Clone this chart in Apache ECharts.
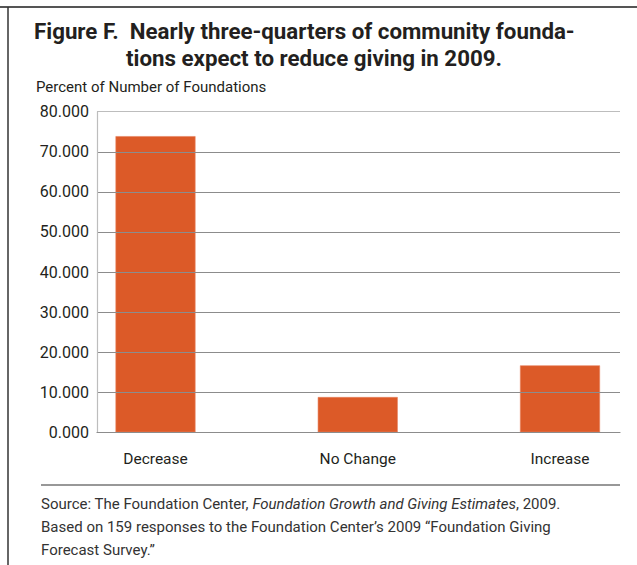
<!DOCTYPE html>
<html>
<head>
<meta charset="utf-8">
<script src="https://cdn.jsdelivr.net/npm/echarts@6/dist/echarts.min.js"></script>
<style>
html,body{margin:0;padding:0;background:#fff;}
#chart{width:637px;height:565px;}
</style>
</head>
<body>
<div id="chart"></div>
<script>
const categories = ['Decrease', 'No Change', 'Increase'];
const values = [73.9, 8.8, 16.7];
const yMin = 0, yMax = 80, yStep = 10;
const titleLine1 = 'Figure F.  Nearly three-quarters of community founda-';
const titleLine2 = 'tions expect to reduce giving in 2009.';
const yAxisTitle = 'Percent of Number of Foundations';
const sourceLines = [
  'Source: The Foundation Center, {i|Foundation Growth and Giving Estimates}, 2009.',
  'Based on 159 responses to the Foundation Center\u2019s 2009 \u201CFoundation Giving',
  'Forecast Survey.\u201D'
];

const FONT = 'Roboto, "Open Sans", sans-serif';
const chart = echarts.init(document.getElementById('chart'), null, {renderer: 'svg'});

const gridTop = 111.7, gridBottom = 565 - 432.3;
const splitColors = [];
for (let v = yMin; v <= yMax; v += yStep) splitColors.push(v === yMax ? '#bdbdbd' : '#8c8c8c');

chart.setOption({
  animation: false,
  backgroundColor: '#fff',
  grid: [
    {left: 155.5, right: 637 - 560, top: gridTop, bottom: gridBottom, containLabel: false},
    {left: 97, right: 637 - 620, top: gridTop, bottom: gridBottom, containLabel: false}
  ],
  xAxis: [
    {
      type: 'category', gridIndex: 0, data: categories, boundaryGap: false,
      axisLine: {show: false}, axisTick: {show: false}, splitLine: {show: false},
      axisLabel: {color: '#231f20', fontFamily: FONT, fontSize: 15.5, margin: 19}
    },
    {
      type: 'category', gridIndex: 1, data: categories, z: 5,
      axisLine: {show: true, lineStyle: {color: '#8c8c8c', width: 1.2}},
      axisTick: {show: false}, axisLabel: {show: false}, splitLine: {show: false}
    }
  ],
  yAxis: [
    {type: 'value', gridIndex: 0, min: yMin, max: yMax, interval: yStep, show: false},
    {
      type: 'value', gridIndex: 1, min: yMin, max: yMax, interval: yStep, z: 5,
      axisLine: {show: true, lineStyle: {color: '#bdbdbd', width: 1.2}},
      axisTick: {show: false},
      splitLine: {show: true, lineStyle: {color: splitColors, width: 1.2}},
      axisLabel: {
        color: '#231f20', fontFamily: FONT, fontSize: 16, margin: 8,
        formatter: v => v.toFixed(3)
      }
    }
  ],
  series: [{
    type: 'bar', xAxisIndex: 0, yAxisIndex: 0, data: values, barWidth: 80, z: 2,
    itemStyle: {color: '#dc5a28', borderColor: '#e8825e', borderWidth: 0.6}
  }],
  graphic: [
    {type: 'line', shape: {x1: 0, y1: 7, x2: 637, y2: 7}, style: {stroke: '#555', lineWidth: 2}},
    {type: 'line', shape: {x1: 8, y1: 7, x2: 8, y2: 565}, style: {stroke: '#333', lineWidth: 1.5}},
    {type: 'text', left: 34, top: 20, style: {text: titleLine1, font: 'bold 22.3px ' + FONT, fill: '#231f20'}},
    {type: 'text', left: 126, top: 46.5, style: {text: titleLine2, font: 'bold 22.3px ' + FONT, fill: '#231f20'}},
    {type: 'text', left: 36, top: 79, style: {text: yAxisTitle, font: '15px ' + FONT, fill: '#231f20'}},
    {type: 'line', shape: {x1: 41, y1: 485, x2: 620, y2: 485}, style: {stroke: '#333', lineWidth: 1.2}},
    {type: 'text', left: 41, top: 496, style: {text: sourceLines[0], font: '15px ' + FONT, fill: '#333', rich: {i: {fontStyle: 'italic', fontFamily: FONT, fontSize: 15, fill: '#333'}}}},
    {type: 'text', left: 41, top: 519, style: {text: sourceLines[1], font: '15px ' + FONT, fill: '#333'}},
    {type: 'text', left: 41, top: 542, style: {text: sourceLines[2], font: '15px ' + FONT, fill: '#333'}}
  ]
});
</script>
</body>
</html>
